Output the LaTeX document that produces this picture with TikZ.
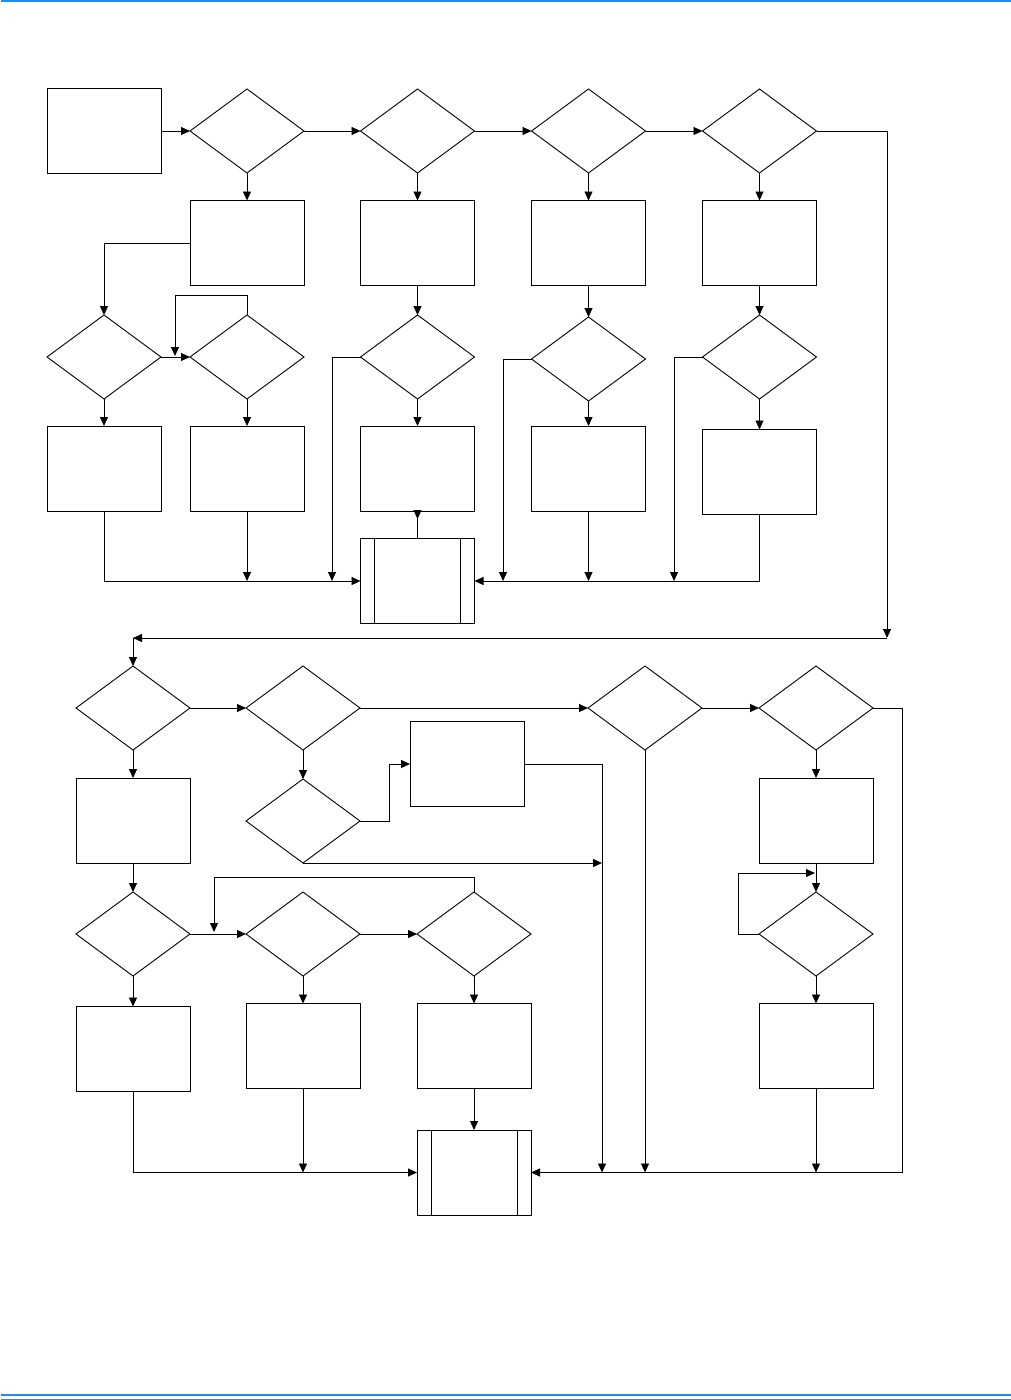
\documentclass[tikz,border=0pt]{standalone}
\usepackage{tikz}
\usetikzlibrary{positioning,arrows.meta,shapes.geometric}
\definecolor{rulecol}{RGB}{30,142,240}

\begin{document}
\begin{tikzpicture}[x=1pt, y=-1pt, line width=0.9pt,
    procbox/.style={draw, rectangle, minimum width=114pt, minimum height=85pt, inner sep=0pt, outer sep=0pt},
    decbox/.style={draw, diamond, aspect=1.36, minimum width=114pt, minimum height=84pt, inner sep=0pt, outer sep=0pt},
    predbox/.style={procbox},
    arr/.style={-{Triangle[length=9pt, width=8pt]}}]
      \useasboundingbox (0,0) rectangle (1011,1400);
      \draw[rulecol, line width=1.5pt] (1,1) -- (1011,1);
      \draw[rulecol, line width=2.5pt] (1,1395) -- (1011,1395);
      \draw[rulecol, line width=1pt] (1,1399.5) -- (1011,1399.5);

      % upper part
      \node[procbox] (r0) at (104,131) {};
      \node[decbox] (d1) at (247,131) {};
      \node[decbox] (d2) at (417.5,131) {};
      \node[decbox] (d3) at (588.5,131) {};
      \node[decbox] (d4) at (759.5,131) {};

      \node[procbox] (b1) at (247,243) {};
      \node[procbox] (b2) at (417.5,243) {};
      \node[procbox] (b3) at (588.5,243) {};
      \node[procbox] (b4) at (759.5,243) {};

      \node[decbox] (da) at (104,357) {};
      \node[decbox] (db) at (247,357) {};
      \node[decbox] (dc) at (417.5,357) {};
      \node[decbox] (dd) at (588.5,359) {};
      \node[decbox] (de) at (759.5,357) {};

      \node[procbox] (ba) at (104,468.5) {};
      \node[procbox] (bb) at (247,468.5) {};
      \node[procbox] (bc) at (417.5,468.5) {};
      \node[procbox] (bd) at (588.5,468.5) {};
      \node[procbox] (be) at (759.5,472) {};

      \node[predbox] (p1) at (417.5,581) {};
      \draw ([xshift=14pt]p1.north west) -- ([xshift=14pt]p1.south west);
      \draw ([xshift=-14pt]p1.north east) -- ([xshift=-14pt]p1.south east);

      \coordinate (c1) at (887,638);
      \coordinate (c2) at (133,638);
      \coordinate (lp1) at (175,356);
      \coordinate (j1) at (332,581);
      \coordinate (j2) at (503,581);
      \coordinate (j3) at (674,581);

      \draw[arr] (r0.east) -- (d1.west);
      \draw[arr] (d1.east) -- (d2.west);
      \draw[arr] (d2.east) -- (d3.west);
      \draw[arr] (d3.east) -- (d4.west);
      \draw[arr] (d1.south) -- (b1.north);
      \draw[arr] (d2.south) -- (b2.north);
      \draw[arr] (d3.south) -- (b3.north);
      \draw[arr] (d4.south) -- (b4.north);

      \draw[arr] (b1.west) -| (da.north);
      \draw[arr] (da.east) -- (db.west);
      \draw[arr] (db.north) -- ++(0,-20) -| (lp1);
      \draw[arr] (b2.south) -- (dc.north);
      \draw[arr] (b3.south) -- (dd.north);
      \draw[arr] (b4.south) -- (de.north);

      \draw[arr] (da.south) -- (ba.north);
      \draw[arr] (db.south) -- (bb.north);
      \draw[arr] (dc.south) -- (bc.north);
      \draw[arr] (dd.south) -- (bd.north);
      \draw[arr] (de.south) -- (be.north);

      \draw[arr] (ba.south) |- (p1.west);
      \draw[arr] (bb.south) -- (bb.south |- p1.west);
      \draw[arr] (dc.west) -| (j1);
      \draw (bc.south) -- (p1.north);
      \draw[arr] (bc.south) -- ++(0,8);
      \draw[arr] (dd.west) -| (j2);
      \draw[arr] (bd.south) -- (bd.south |- p1.east);
      \draw[arr] (de.west) -| (j3);
      \draw[arr] (be.south) |- (p1.east);

      \draw[arr] (d4.east) -| (c1);
      \draw[arr] (c1) -- (c2);

      % lower part
      \node[decbox] (d5) at (133,708) {};
      \node[decbox] (d6) at (303,708) {};
      \node[decbox] (d7) at (645,708) {};
      \node[decbox] (d8) at (816,708) {};

      \node[procbox] (b5) at (133,820.5) {};
      \node[decbox] (d9) at (303,821) {};
      \node[procbox] (b6) at (467,764) {};
      \node[procbox] (b10) at (816,820.5) {};

      \node[decbox] (d10) at (133,934) {};
      \node[decbox] (d11) at (303,934) {};
      \node[decbox] (d12) at (474,934) {};
      \node[decbox] (d13) at (816,934) {};

      \node[procbox] (b7) at (133,1049) {};
      \node[procbox] (b8) at (303,1046) {};
      \node[procbox] (b9) at (474,1046) {};
      \node[procbox] (b11) at (816,1046) {};

      \node[predbox] (p2) at (474,1172.5) {};
      \draw ([xshift=14pt]p2.north west) -- ([xshift=14pt]p2.south west);
      \draw ([xshift=-14pt]p2.north east) -- ([xshift=-14pt]p2.south east);

      \coordinate (j5) at (602,1172.5);
      \coordinate (lp2) at (214,932);
      \coordinate (lp3) at (815,873);

      \draw[arr] (c2) -- (d5.north);
      \draw[arr] (d5.east) -- (d6.west);
      \draw[arr] (d6.east) -- (d7.west);
      \draw[arr] (d7.east) -- (d8.west);
      \draw[arr] (d8.east) -- ++(29,0) |- (p2.east);
      \draw[arr] (d7.south) -- (d7.south |- p2.east);

      \draw[arr] (d6.south) -- (d9.north);
      \draw[arr] (d9.east) -- ++(29,0) |- (b6.west);
      \draw[arr] (b6.east) -| (j5);
      \draw[arr] (d9.south) -- (d9.south -| j5);

      \draw[arr] (d5.south) -- (b5.north);
      \draw[arr] (b5.south) -- (d10.north);
      \draw[arr] (d10.east) -- (d11.west);
      \draw[arr] (d11.east) -- (d12.west);
      \draw[arr] (d12.north) -- ++(0,-15) -| (lp2);

      \draw[arr] (d10.south) -- (b7.north);
      \draw[arr] (d11.south) -- (b8.north);
      \draw[arr] (d12.south) -- (b9.north);
      \draw[arr] (b7.south) |- (p2.west);
      \draw[arr] (b8.south) -- (b8.south |- p2.west);
      \draw[arr] (b9.south) -- (p2.north);

      \draw[arr] (d8.south) -- (b10.north);
      \draw[arr] (b10.south) -- (d13.north);
      \draw[arr] (d13.west) -- ++(-21,0) |- (lp3);
      \draw[arr] (d13.south) -- (b11.north);
      \draw[arr] (b11.south) -- (b11.south |- p2.east);
    \end{tikzpicture}
\end{document}
